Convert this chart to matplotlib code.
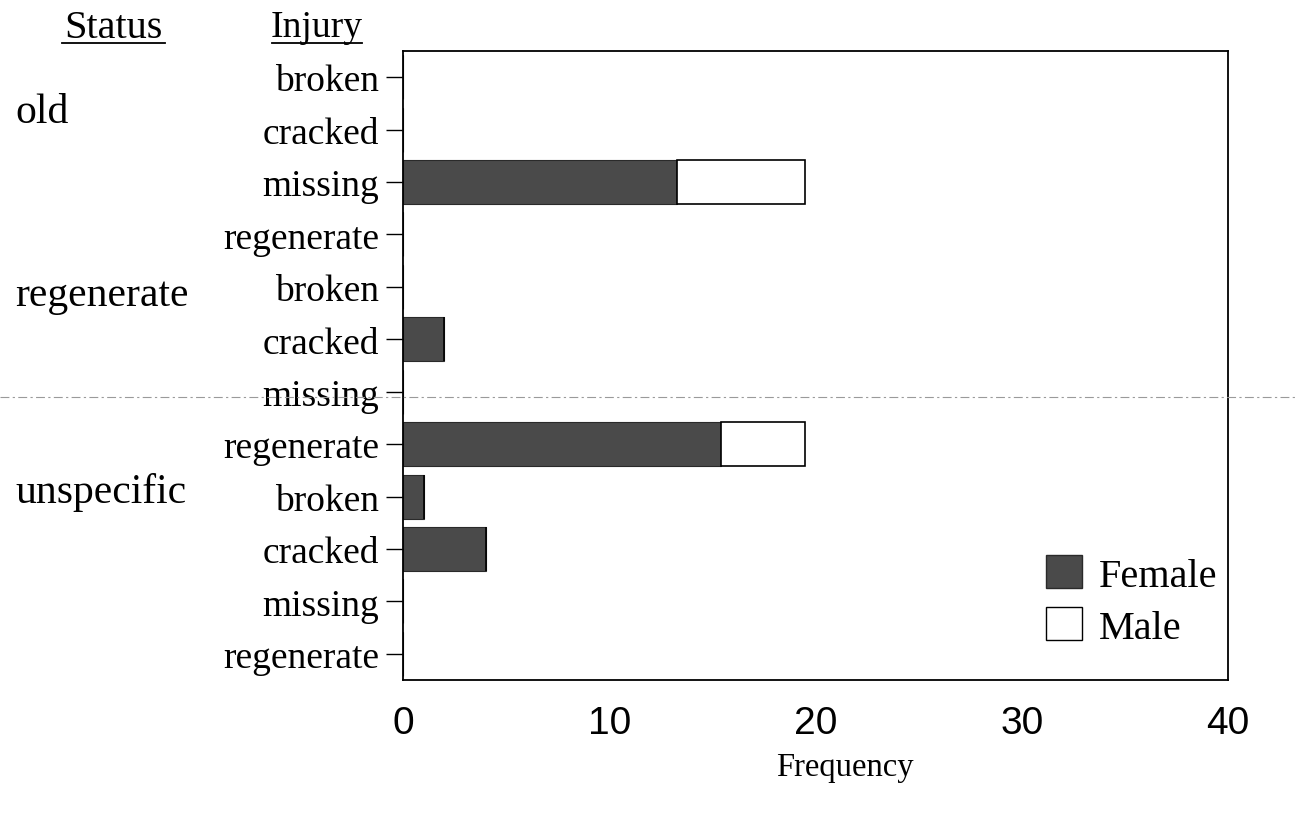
import numpy as np
import matplotlib
matplotlib.use("Agg")
import matplotlib.pyplot as plt
from matplotlib.lines import Line2D
from matplotlib.patches import Patch
import matplotlib.transforms as mtransforms

# data
injury = ["broken", "cracked", "missing", "regenerate",
          "broken", "cracked", "missing", "regenerate",
          "broken", "cracked", "missing", "regenerate"]
status = ["old", "regenerate", "unspecific"]
status_pos = [0.65, 4.15, 7.9]
female = [0, 0, 13.3, 0, 0, 2, 0, 15.4, 1, 4, 0, 0]
male = [0, 0, 6.2, 0, 0, 0, 0, 4.1, 0, 0, 0, 0]
x_ticks = [0, 10, 20, 30, 40]

serif = "Liberation Serif"
sans = "Liberation Sans"
dark = "#4a4a4a"

fig = plt.figure(figsize=(12.96, 8.2), dpi=100)
ax = fig.add_axes([403 / 1296, 1 - 681 / 820, (1228 - 403) / 1296, (681 - 52) / 820])

y = np.arange(len(injury))
ax.barh(y, female, height=0.84, color=dark, edgecolor="#2a2a2a", linewidth=0.8, label="Female")
ax.barh(y, male, left=female, height=0.84, color="white", edgecolor="black", linewidth=1.2, label="Male")

ax.set_xlim(0, 40)
ax.set_ylim(len(injury) - 0.5, -0.5)
ax.set_yticks(y)
ax.set_yticklabels(injury, fontfamily=serif, fontsize=27)
ax.set_xticks(x_ticks)
ax.set_xticklabels([str(t) for t in x_ticks], fontfamily=sans, fontsize=28)
ax.tick_params(axis="y", length=12, width=1, pad=5)
ax.tick_params(axis="x", length=0, pad=18)
for s in ax.spines.values():
    s.set_linewidth(1.3)

fig.text(845 / 1296, 1 - 768 / 820, "Frequency", fontfamily=serif, fontsize=23.5,
         ha="center", va="center")

# headers
fig.text(113 / 1296, 1 - 28 / 820, "Status", fontfamily=serif, fontsize=29, ha="center", va="center")
fig.text(317 / 1296, 1 - 28 / 820, "Injury", fontfamily=serif, fontsize=27, ha="center", va="center")
fig.add_artist(Line2D([62 / 1296, 165 / 1296], [1 - 44 / 820] * 2, color="black", lw=1.3))
fig.add_artist(Line2D([272 / 1296, 362 / 1296], [1 - 44 / 820] * 2, color="black", lw=1.3))

trans = mtransforms.blended_transform_factory(fig.transFigure, ax.transData)
for name, pos in zip(status, status_pos):
    fig.text(15 / 1296, pos, name, transform=trans, fontfamily=serif, fontsize=30,
             ha="left", va="center")

handles = [Patch(facecolor=dark, edgecolor="#2a2a2a", label="Female"),
           Patch(facecolor="white", edgecolor="black", label="Male")]
fig.legend(handles=handles, loc="center left", bbox_to_anchor=(1026 / 1296, 1 - 602 / 820),
           frameon=False, borderpad=0, prop={"family": serif, "size": 29},
           handlelength=0.9, handleheight=0.88, handletextpad=0.4, labelspacing=0.32)

# faint scan line across the page
fig.add_artist(Line2D([0, 1], [1 - 398 / 820] * 2, color="#9a9a9a", lw=0.8, ls=(0, (8, 3, 2, 3))))

fig.savefig("out.png", dpi=100)
